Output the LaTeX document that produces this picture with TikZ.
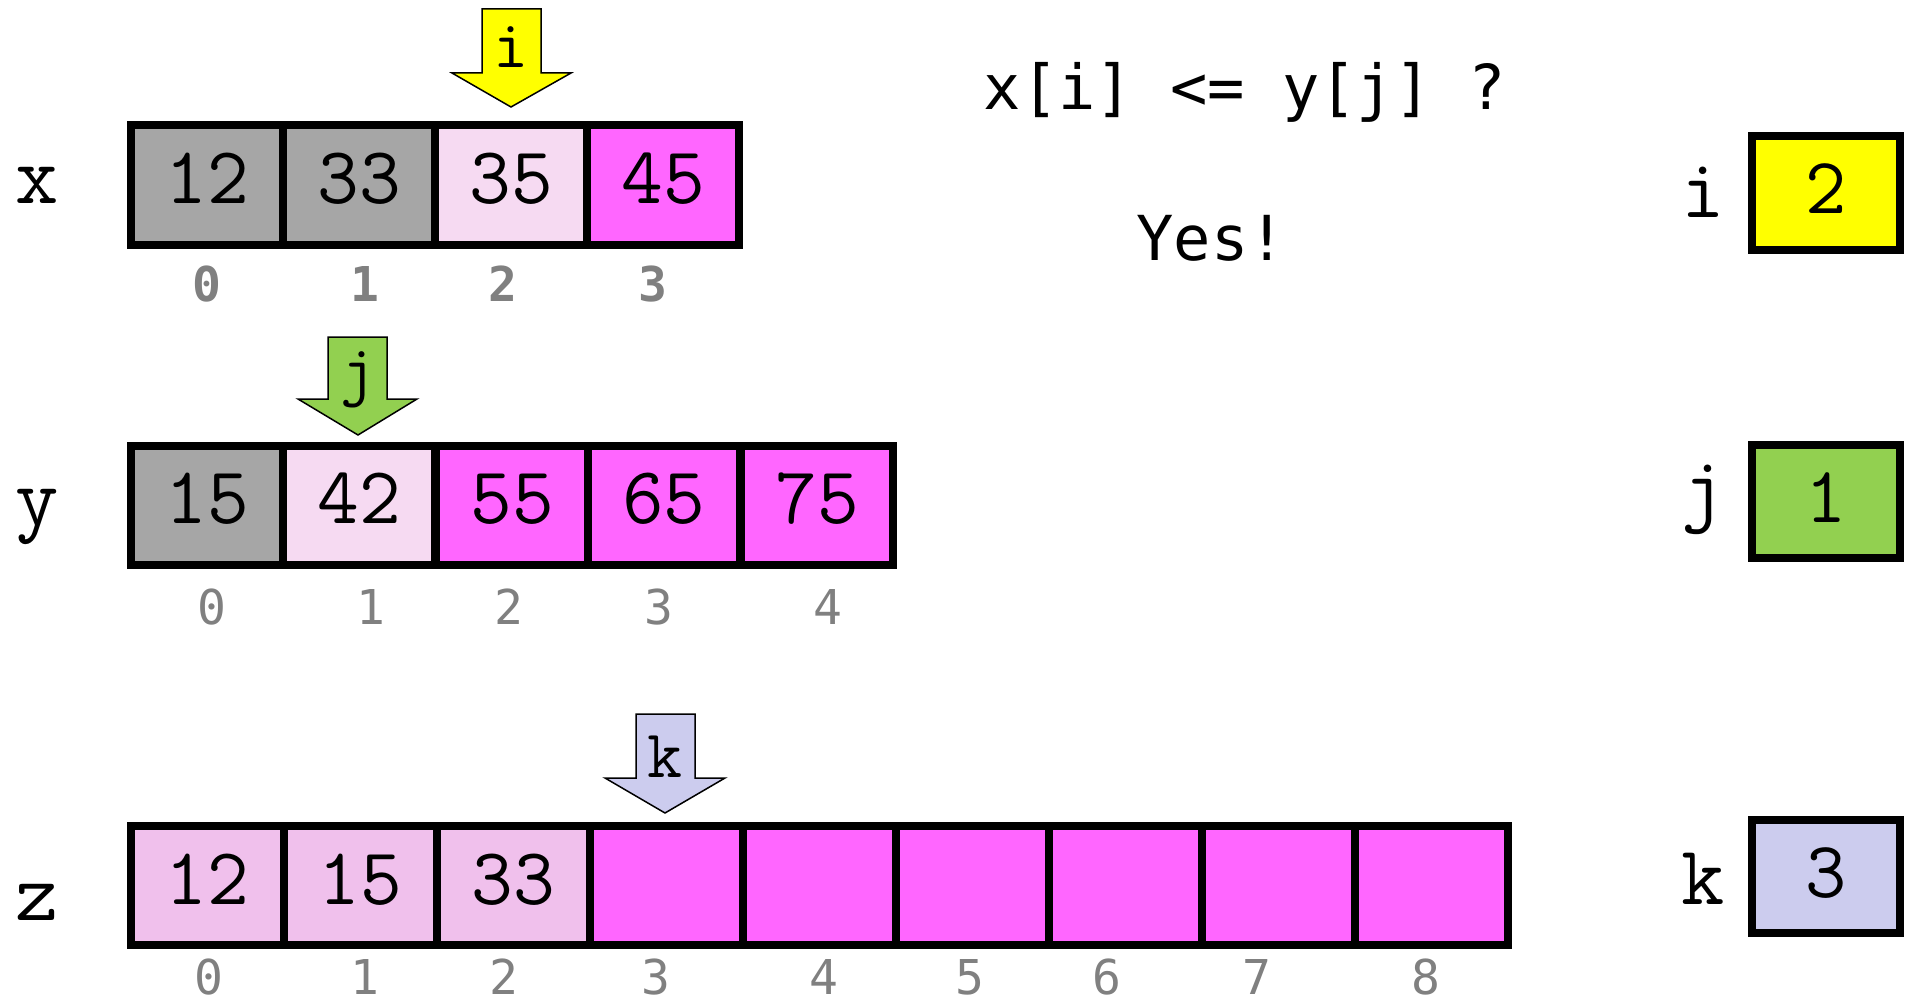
\documentclass[tikz,border=0pt]{standalone}
\usepackage{fontspec}
\newfontfamily\dvm{DejaVu Sans Mono}
\definecolor{cgray}{HTML}{A6A6A6}
\definecolor{cpale}{HTML}{F6DAF2}
\definecolor{cmag}{HTML}{FF66FF}
\definecolor{czp}{HTML}{F0C0EC}
\definecolor{cyel}{HTML}{FFFF00}
\definecolor{cgrn}{HTML}{92D050}
\definecolor{clav}{HTML}{CCCCEE}
\definecolor{cidx}{HTML}{808080}
\begin{document}
\begin{tikzpicture}[x=1pt,y=-1pt,
  cellbox/.style={draw=black, line width=8pt, minimum width=152pt, minimum height=119pt,
    inner sep=0pt, outer sep=0pt, text height=49pt, text depth=12pt,
    font=\ttfamily\fontsize{81}{81}\selectfont},
  varbox/.style={draw=black, line width=8pt, minimum width=148pt, minimum height=113pt,
    inner sep=0pt, outer sep=0pt, text height=49pt, text depth=8pt,
    font=\ttfamily\fontsize{80}{80}\selectfont},
  namelbl/.style={font=\ttfamily\fontsize{84}{84}\selectfont, inner sep=0pt},
  ptrlbl/.style={font=\ttfamily\fontsize{68}{68}\selectfont, inner sep=0pt},
  idxb/.style={font=\dvm\bfseries\fontsize{48}{48}\selectfont, text=cidx, inner sep=0pt},
  idx/.style={font=\dvm\fontsize{48}{48}\selectfont, text=cidx, inner sep=0pt},
  title/.style={font=\dvm\fontsize{62}{62}\selectfont, inner sep=0pt},
  ptr/.style={draw=black, line width=1.5pt}
]
\useasboundingbox (0,0) rectangle (1914,1003);

% x array
\node[cellbox, fill=cgray] (x0) at (207,185) {12};
\node[cellbox, fill=cgray] (x1) at (359,185) {33};
\node[cellbox, fill=cpale] (x2) at (511,185) {35};
\node[cellbox, fill=cmag]  (x3) at (663,185) {45};
\node[namelbl] (xl) at (37,185) {x};
\node[idxb] (xi0) at (207,284) {0};
\node[idxb] (xi1) at (365,284) {1};
\node[idxb] (xi2) at (503,284) {2};
\node[idxb] (xi3) at (653,284) {3};

% y array
\node[cellbox, fill=cgray] (y0) at (207,505) {15};
\node[cellbox, fill=cpale] (y1) at (359,505) {42};
\node[cellbox, fill=cmag]  (y2) at (512,505) {55};
\node[cellbox, fill=cmag]  (y3) at (664,505) {65};
\node[cellbox, fill=cmag]  (y4) at (817,505) {75};
\node[namelbl] (yl) at (37,517) {y};
\node[idx] (yi0) at (212,607) {0};
\node[idx] (yi1) at (371,607) {1};
\node[idx] (yi2) at (509,607) {2};
\node[idx] (yi3) at (659,607) {3};
\node[idx] (yi4) at (828,607) {4};

% z array
\foreach \k/\v/\c in {0/12/czp,1/15/czp,2/33/czp,3//cmag,4//cmag,5//cmag,6//cmag,7//cmag,8//cmag}{
  \node[cellbox, minimum width=153pt, fill=\c] (z\k) at ({131+153*(\k+0.5)},885.5) {\v};
}
\node[namelbl] (zl) at (37,902) {z};
\foreach \k/\px in {0/209,1/365,2/504,3/656,4/824,5/970,6/1107,7/1257,8/1426}{
  \node[idx] (zi\k) at (\px,977) {\k};
}

% pointer arrows
\draw[ptr, fill=cyel] (482,9) -- (541,9) -- (541,73) -- (571,73) -- (511,107) -- (452,73) -- (482,73) -- cycle;
\node[ptrlbl] (ia) at (511,47) {i};
\draw[ptr, fill=cgrn] (328,337) -- (387,337) -- (387,399) -- (417,399) -- (358,435) -- (298,399) -- (328,399) -- cycle;
\node[ptrlbl] (ja) at (358,380) {j};
\draw[ptr, fill=clav] (636,714) -- (695,714) -- (695,778) -- (725,778) -- (665,813) -- (605,778) -- (636,778) -- cycle;
\node[ptrlbl] (ka) at (665,757) {k};

% question
\node[title] (q) at (1245,92) {x[i] <= y[j] ?};
\node[title] (yes) at (1211,238) {Yes!};

% variable boxes
\node[varbox, fill=cyel] (iv) at (1826,193) {2};
\node[namelbl] (il) at (1703,192) {i};
\node[varbox, fill=cgrn] (jv) at (1826,501.5) {1};
\node[namelbl] (jl) at (1703,500) {j};
\node[varbox, fill=clav] (kv) at (1826,876.5) {3};
\node[namelbl] (kl) at (1703,879) {k};
\end{tikzpicture}
\end{document}
